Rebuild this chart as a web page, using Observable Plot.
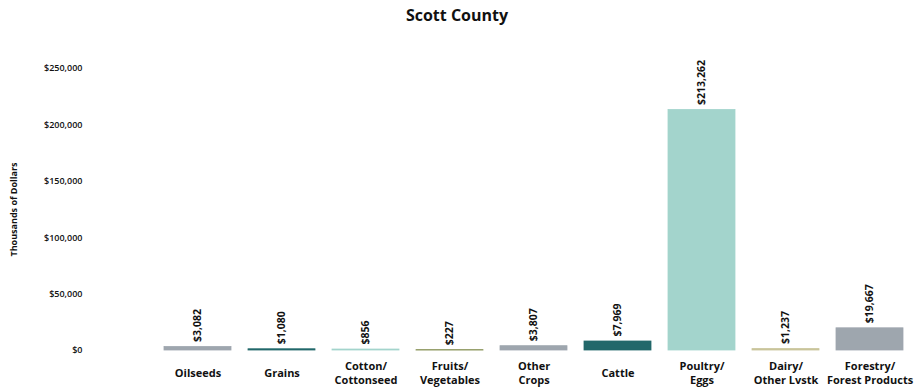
<!DOCTYPE html>
<html>
<head>
<meta charset="utf-8">
<script src="https://cdn.jsdelivr.net/npm/d3@7"></script>
<script src="https://cdn.jsdelivr.net/npm/@observablehq/plot@0.6"></script>
<style>
  body { margin: 0; background: #fff; font-family: "Open Sans", sans-serif; }
  #title { height: 32px; line-height: 30px; text-align: center; font-weight: bold; font-size: 16px; color: #111; }
</style>
</head>
<body>
<div id="title">Scott County</div>
<div id="chart"></div>
<script>
const categories = ["Oilseeds", "Grains", "Cotton/\nCottonseed", "Fruits/\nVegetables", "Other\nCrops", "Cattle", "Poultry/\nEggs", "Dairy/\nOther Lvstk", "Forestry/\nForest Products"];
const values = [3082, 1080, 856, 227, 3807, 7969, 213262, 1237, 19667];
const colors = ["#9ea6ae", "#22686a", "#a3d4cc", "#76823e", "#9ea6ae", "#22686a", "#a3d4cc", "#c9c49a", "#9ea6ae"];
const yTicks = [0, 50000, 100000, 150000, 200000, 250000];

const data = categories.map((c, i) => ({category: c, value: values[i], color: colors[i]}));
const fmt = d3.format(",");

const chart = Plot.plot({
  width: 914,
  height: 358,
  marginLeft: 153,
  marginRight: 0,
  marginTop: 36,
  marginBottom: 40,
  style: {fontFamily: "Open Sans, sans-serif", color: "#111", background: "#fff"},
  x: {domain: categories, paddingInner: 0.2, paddingOuter: 0.1, label: null},
  y: {domain: [0, 250000], label: null},
  marks: [
    Plot.barY(data, {x: "category", y: "value", fill: "color", stroke: "color", strokeWidth: 0.8}),
    Plot.text(data, {x: "category", y: "value", text: d => "$" + fmt(d.value), rotate: -90, textAnchor: "start", dy: -5, fontSize: 10.5, fontWeight: "bold", fill: "#111"}),
    Plot.axisY({ticks: yTicks, tickFormat: d => "$" + fmt(d), tickSize: 0, tickPadding: 71, fontSize: 9, fontWeight: "600", label: null}),
    Plot.text(["Thousands of Dollars"], {frameAnchor: "left", textAnchor: "middle", dx: -139, rotate: -90, fontSize: 9, fontWeight: "bold", fill: "#111"}),
    Plot.axisX({tickSize: 0, tickPadding: 22, lineAnchor: "middle", fontSize: 11, fontWeight: "bold", lineHeight: 1.25, label: null})
  ]
});
document.getElementById("chart").appendChild(chart);
</script>
</body>
</html>
